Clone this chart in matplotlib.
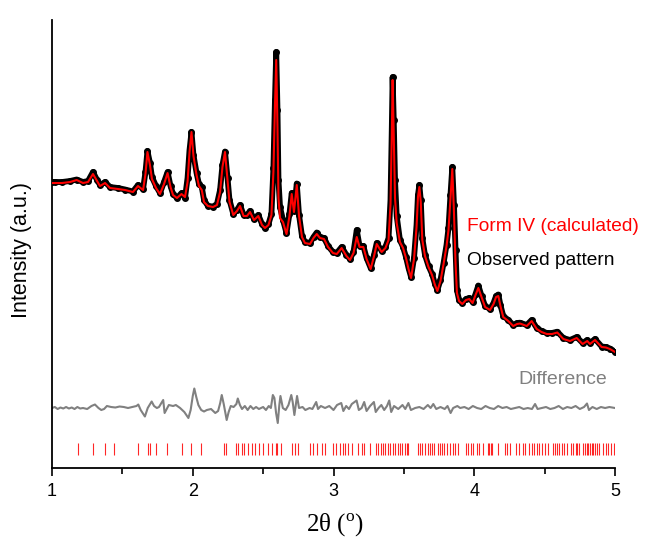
import numpy as np
import matplotlib
matplotlib.use('agg')
import matplotlib.pyplot as plt

# observed / calculated pattern (arbitrary intensity units)
two_theta = [1.000, 1.021, 1.071, 1.128, 1.175, 1.220, 1.256, 1.291, 1.320, 1.341,
             1.377, 1.412, 1.469, 1.519, 1.575, 1.611, 1.647, 1.664, 1.678, 1.696,
             1.710, 1.739, 1.767, 1.796, 1.821, 1.842, 1.860, 1.888, 1.920, 1.945,
             1.963, 1.977, 1.991, 2.005, 2.027, 2.044, 2.064, 2.080, 2.108, 2.144,
             2.172, 2.194, 2.211, 2.229, 2.247, 2.261, 2.288, 2.314, 2.336, 2.361,
             2.385, 2.407, 2.435, 2.466, 2.492, 2.513, 2.538, 2.559, 2.573, 2.584,
             2.593, 2.602, 2.609, 2.620, 2.641, 2.666, 2.687, 2.703, 2.719, 2.739,
             2.755, 2.776, 2.797, 2.833, 2.858, 2.881, 2.904, 2.933, 2.961, 2.996,
             3.023, 3.058, 3.092, 3.117, 3.142, 3.165, 3.185, 3.212, 3.235, 3.264,
             3.288, 3.307, 3.342, 3.369, 3.391, 3.405, 3.414, 3.420, 3.428, 3.437,
             3.449, 3.472, 3.494, 3.515, 3.533, 3.551, 3.572, 3.590, 3.600, 3.610,
             3.620, 3.631, 3.650, 3.675, 3.700, 3.721, 3.738, 3.760, 3.782, 3.803,
             3.817, 3.831, 3.844, 3.856, 3.867, 3.877, 3.892, 3.915, 3.941, 3.965,
             3.988, 4.009, 4.029, 4.052, 4.077, 4.112, 4.137, 4.155, 4.171, 4.186,
             4.206, 4.242, 4.277, 4.304, 4.325, 4.373, 4.408, 4.444, 4.478, 4.515,
             4.552, 4.590, 4.633, 4.680, 4.728, 4.770, 4.803, 4.822, 4.858, 4.905,
             4.936, 4.964, 5.000]

observed = [286, 286, 286, 287, 288.5, 286, 287, 296, 288, 283,
            286, 281, 280, 278.5, 276.5, 283, 279, 296, 317, 305,
            291, 282, 275, 286, 296, 282, 274, 270, 275, 270,
            290, 318, 336, 313, 295, 284, 281, 268, 262, 261.5,
            264, 278, 303, 316.5, 290, 268, 254, 258, 263, 253,
            253, 257, 249, 253, 244, 240, 244, 254, 300, 368,
            416, 358, 288, 261, 248, 235, 254, 275, 257, 284.5,
            253, 232, 226, 225, 231, 235.5, 231, 230, 222, 216,
            215, 221, 213, 209, 216, 238, 222, 222, 210, 200,
            213, 225, 217, 221, 230, 268, 338, 391, 348, 288,
            252, 228, 221, 211, 200, 191, 210, 243, 273, 283,
            268, 230, 213, 202, 194, 184, 178, 188, 205, 223,
            240, 273, 301, 263, 218, 178, 168, 165, 169, 170,
            166, 174, 182.5, 172, 162, 159, 165, 172, 173.5, 163,
            152, 148, 143, 145, 145.3, 143, 148, 140, 137, 135,
            135, 136.3, 130, 128, 131, 125, 128, 125, 129, 121.5,
            121, 119.5, 116.3]

calculated = [285, 285, 285, 286, 288, 285, 286, 294, 287, 282,
              285, 280, 279, 278, 276, 282, 278, 294, 316, 303,
              289, 280, 274, 284, 295, 281, 273, 270, 274, 271,
              286, 316, 336, 312, 293, 282, 278, 266, 262, 261,
              263, 276, 301, 316, 288, 266, 253, 257, 262, 252,
              252, 256, 248, 252, 243, 240, 243, 253, 296, 362,
              408, 340, 270, 250, 246, 234, 252, 274, 256, 283,
              252, 231, 225, 224, 230, 234, 230, 229, 221, 215,
              214, 220, 212, 208, 215, 231, 221, 221, 209, 199,
              212, 224, 216, 220, 228, 264, 332, 388, 330, 270,
              245, 226, 220, 210, 199, 190, 209, 241, 271, 281,
              266, 228, 212, 201, 193, 183, 177, 187, 204, 222,
              238, 270, 299, 255, 205, 175, 167, 164, 168, 169,
              165, 173, 180, 171, 161, 158, 164, 171, 172, 162,
              151, 147, 142, 144, 144.5, 142, 147, 139, 136, 134,
              134, 135.5, 129, 127, 130, 124, 127, 124, 128, 121,
              120.5, 119, 116]

# difference curve (obs - calc, offset)
diff_x = [1.00, 1.02, 1.04, 1.06, 1.08, 1.10, 1.12, 1.14, 1.16, 1.18,
          1.20, 1.22, 1.25, 1.28, 1.305, 1.33, 1.35, 1.37, 1.39, 1.42,
          1.45, 1.48, 1.51, 1.54, 1.57, 1.60, 1.613, 1.63, 1.66, 1.68,
          1.708, 1.725, 1.745, 1.76, 1.79, 1.80, 1.815, 1.83, 1.86, 1.88,
          1.91, 1.94, 1.969, 1.985, 2.000, 2.011, 2.025, 2.04, 2.06, 2.08,
          2.10, 2.13, 2.16, 2.18, 2.195, 2.206, 2.22, 2.241, 2.255, 2.27,
          2.29, 2.31, 2.32, 2.335, 2.35, 2.37, 2.39, 2.41, 2.43, 2.45,
          2.47, 2.50, 2.52, 2.54, 2.555, 2.569, 2.58, 2.592, 2.604, 2.615,
          2.623, 2.64, 2.66, 2.68, 2.70, 2.71, 2.722, 2.741, 2.755, 2.78,
          2.80, 2.83, 2.85, 2.877, 2.89, 2.91, 2.94, 2.97, 3.00, 3.025,
          3.055, 3.07, 3.09, 3.11, 3.13, 3.164, 3.18, 3.20, 3.218, 3.235,
          3.26, 3.287, 3.30, 3.32, 3.34, 3.36, 3.38, 3.396, 3.41, 3.43,
          3.46, 3.49, 3.51, 3.532, 3.55, 3.58, 3.61, 3.64, 3.67, 3.69,
          3.709, 3.73, 3.76, 3.79, 3.81, 3.832, 3.85, 3.88, 3.90, 3.93,
          3.96, 3.99, 4.02, 4.05, 4.08, 4.11, 4.14, 4.17, 4.20, 4.23,
          4.26, 4.29, 4.32, 4.35, 4.38, 4.41, 4.432, 4.45, 4.48, 4.51,
          4.54, 4.57, 4.60, 4.63, 4.66, 4.69, 4.72, 4.75, 4.78, 4.801,
          4.815, 4.84, 4.87, 4.90, 4.93, 4.96, 5.00]

difference = [60, 61, 59, 60.5, 59.5, 61, 59.5, 60.5, 59, 61,
              59.5, 60, 59, 62, 63.5, 60, 58, 59, 62, 61,
              60.5, 61.5, 61, 60, 61, 62, 63.5, 58, 51.5, 60,
              66.5, 62, 60, 61, 68, 55, 59, 63, 62, 63,
              60, 56, 50, 58, 72, 79.5, 71, 63, 58, 56.5,
              58, 59, 55, 57, 65, 73, 64, 48, 56, 62,
              61, 64, 69.5, 63, 59, 62, 58, 62, 59, 61,
              59, 61, 58, 62, 60, 73, 70, 55, 45, 63,
              72, 60, 58, 63, 73, 66, 53, 72, 60, 61,
              58, 60, 59, 66, 59, 62, 60, 62, 58, 63,
              65, 57, 62, 59, 64, 67.5, 58, 60, 66, 57,
              62, 66, 56, 60, 63, 58, 62, 67.5, 56, 62,
              59, 63, 59, 65, 58, 60, 61, 59, 63, 60,
              64, 59, 61, 59, 62, 55, 60, 62, 60, 61,
              59, 62, 60, 59, 62, 60, 59, 62, 60, 61,
              59, 60, 61, 59, 60, 59, 64, 59, 60, 61,
              59, 60, 62, 59, 61, 60, 62, 59, 61, 64.5,
              58, 61, 59, 61, 60, 61, 60]

# calculated reflection positions (Form IV)
reflections = [1.187, 1.293, 1.376, 1.442, 1.612, 1.679, 1.695, 1.739, 1.819, 1.921,
               1.985, 2.056, 2.222, 2.236, 2.307, 2.323, 2.347, 2.366, 2.394, 2.419,
               2.442, 2.471, 2.501, 2.533, 2.561, 2.589, 2.596, 2.627, 2.703, 2.726,
               2.750, 2.833, 2.856, 2.881, 2.916, 2.940, 2.999, 3.016, 3.046, 3.070,
               3.082, 3.105, 3.129, 3.172, 3.200, 3.219, 3.259, 3.302, 3.318, 3.337,
               3.354, 3.366, 3.385, 3.401, 3.421, 3.437, 3.456, 3.472, 3.489, 3.508,
               3.524, 3.531, 3.602, 3.615, 3.627, 3.650, 3.669, 3.686, 3.702, 3.716,
               3.745, 3.760, 3.773, 3.785, 3.804, 3.828, 3.847, 3.863, 3.887, 3.941,
               3.958, 3.975, 3.993, 4.017, 4.036, 4.064, 4.100, 4.107, 4.117, 4.124,
               4.171, 4.218, 4.231, 4.254, 4.297, 4.320, 4.344, 4.361, 4.391, 4.408,
               4.427, 4.444, 4.462, 4.479, 4.503, 4.526, 4.562, 4.574, 4.586, 4.604,
               4.621, 4.638, 4.657, 4.687, 4.704, 4.723, 4.732, 4.746, 4.775, 4.787,
               4.799, 4.810, 4.822, 4.834, 4.846, 4.858, 4.870, 4.889, 4.917, 4.936,
               4.952, 4.969, 4.993]

sans = 'Liberation Sans'
serif = 'Liberation Serif'

fig = plt.figure(figsize=(6.51, 5.44), dpi=100)
ax = fig.add_axes([0.0799, 0.1397, 0.8648, 0.8235])

# observed: thick band of black dots
ax.plot(two_theta, observed, color='black', lw=4.2, solid_capstyle='round', zorder=2)
ax.plot(two_theta, observed, 'o', color='black', ms=4, zorder=2)
# calculated
ax.plot(two_theta, calculated, color='red', lw=1.5, zorder=3)
# difference
ax.plot(diff_x, difference, color='#808080', lw=1.5, zorder=2)
# reflection ticks
ax.vlines(reflections, 13, 25, color='red', lw=0.8, alpha=0.85)

ax.text(3.948, 242, 'Form IV (calculated)', color='red', fontsize=13.8,
        family=sans, va='center', ha='left')
ax.text(3.948, 208, 'Observed pattern', color='black', fontsize=13.8,
        family=sans, va='center', ha='left')
ax.text(4.311, 89, 'Difference', color='#808080', fontsize=14,
        family=sans, va='center', ha='left')

ax.set_xlim(1, 5)
ax.set_ylim(0, 448)
ax.set_xticks([1, 2, 3, 4, 5])
ax.set_xticks([1.5, 2.5, 3.5, 4.5], minor=True)
ax.set_yticks([])
ax.tick_params(axis='x', which='major', direction='out', length=6, width=1.2,
               labelsize=13, pad=5)
ax.tick_params(axis='x', which='minor', direction='out', length=4, width=1.2)
for lab in ax.get_xticklabels():
    lab.set_family(sans)

for s in ['top', 'right']:
    ax.spines[s].set_visible(False)
for s in ['left', 'bottom']:
    ax.spines[s].set_linewidth(1.3)

ax.set_ylabel('Intensity (a.u.)', fontsize=15.5, family=sans)
ax.yaxis.set_label_coords(-0.036, 0.487)
ax.set_xlabel(r'2θ ($^\mathregular{o}$)', fontsize=18, family=serif)
ax.xaxis.set_label_coords(0.503, -0.098)
ax.xaxis.label.set_va('top')

fig.savefig('out.png', dpi=100)
